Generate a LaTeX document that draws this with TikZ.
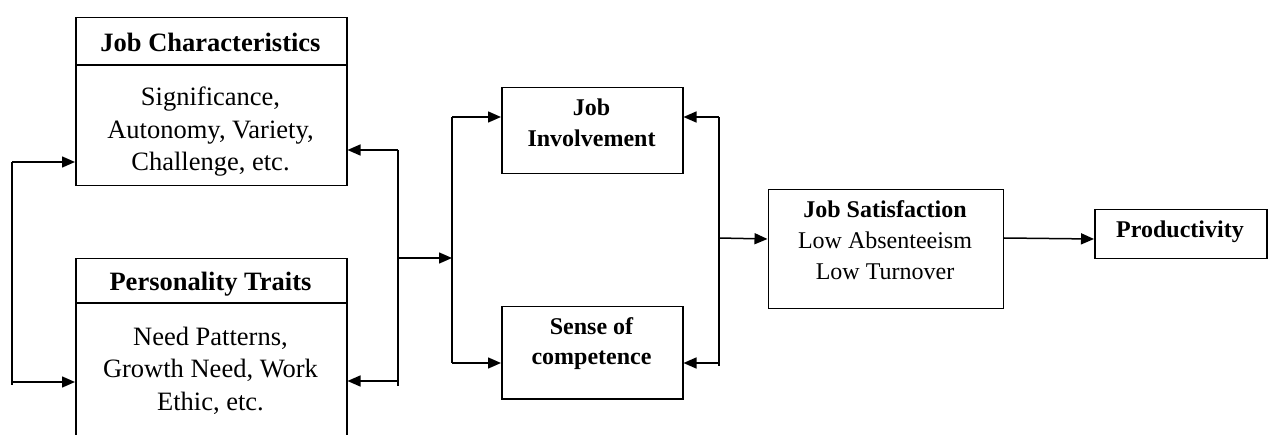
\documentclass[tikz,border=0pt]{standalone}
\usepackage{fontspec}
\setmainfont{Liberation Serif}
\usetikzlibrary{arrows.meta}
\tikzset{
  box/.style={draw, line width=1.5pt, rectangle, inner sep=0pt, anchor=north west},
  big/.style={font=\fontsize{26.5}{32.5}\selectfont, inner sep=0pt, anchor=base, align=center},
  bigb/.style={font=\fontsize{26.5}{32.5}\selectfont\bfseries, inner sep=0pt, anchor=base, align=center},
  sml/.style={font=\fontsize{24}{30.5}\selectfont, inner sep=0pt, anchor=base, align=center},
  smlb/.style={font=\fontsize{24}{30.5}\selectfont\bfseries, inner sep=0pt, anchor=base, align=center},
  wire/.style={line width=1.5pt},
  arr/.style={line width=1.5pt, -{Triangle[length=13pt,width=11pt]}}
}
\begin{document}
\begin{tikzpicture}[x=1pt,y=-1pt]
\useasboundingbox (0,0) rectangle (1268,435);
% boxes
\node[box, minimum width=271pt, minimum height=168pt] (jc) at (75,17) {};
\node[box, minimum width=271pt, minimum height=200pt] (pt) at (75,258) {};
\node[box, minimum width=181pt, minimum height=86pt] (ji) at (501,87) {};
\node[box, minimum width=181pt, minimum height=92pt] (sc) at (501,306) {};
\node[box, minimum width=235pt, minimum height=119pt] (js) at (767.5,189) {};
\node[box, minimum width=172pt, minimum height=49pt] (pr) at (1094,209) {};
\draw[wire] (75,65) -- (346,65);
\draw[wire] (75,303) -- (346,303);
% texts (anchor=base of a multi-line node is the last line's baseline)
\node[bigb] (jct) at (210.5,52) {Job Characteristics};
\begin{scope}
\clip (75,66) rectangle (346,177);
\node[big] (jcb) at (210.5,171) {Significance,\\Autonomy, Variety,\\Challenge, etc.};
\end{scope}
\node[bigb] (ptt) at (210.5,291) {Personality Traits};
\node[big] (ptb) at (210.5,410) {Need Patterns,\\Growth Need, Work\\Ethic, etc.};
\node[smlb] (jit) at (591.5,146.5) {Job\\Involvement};
\node[smlb] (sct) at (591.5,364.5) {Sense of\\competence};
\node[smlb] (jst) at (885,218) {Job Satisfaction};
\node[sml] (jsb) at (885,279.5) {Low Absenteeism\\Low Turnover};
\node[smlb] (prt) at (1180,238) {Productivity};
% junction coordinates
\coordinate (lt) at (12,162);
\coordinate (lb) at (12,385);
\coordinate (rt) at (398,150);
\coordinate (rb) at (398,386);
\coordinate (rm) at (398,258);
\coordinate (mt) at (452,117);
\coordinate (mb) at (452,363);
\coordinate (mm) at (452,258);
\coordinate (qt) at (719,117);
\coordinate (qb) at (719,366);
\coordinate (qm) at (719,238);
% connectors
\draw[wire] (lt) -- (lb);
\draw[arr] (lt) -- (jc.west |- lt);
\draw[arr] (12,382) -- (pt.west |- {(0,382)});
\draw[wire] (rt) -- (rb);
\draw[arr] (rt) -- (jc.east |- rt);
\draw[arr] (398,381) -- (pt.east |- {(0,381)});
\draw[arr] (rm) -- (mm);
\draw[wire] (mt) -- (mb);
\draw[arr] (mt) -- (ji.west |- mt);
\draw[arr] (mb) -- (sc.west |- mb);
\draw[wire] (qt) -- (qb);
\draw[arr] (qt) -- (ji.east |- qt);
\draw[arr] (719,363) -- (sc.east |- {(0,363)});
\draw[arr] (qm) -- (js.west |- {(0,239)});
\draw[arr] (js.east |- qm) -- (pr.west |- {(0,239)});
\end{tikzpicture}
\end{document}
